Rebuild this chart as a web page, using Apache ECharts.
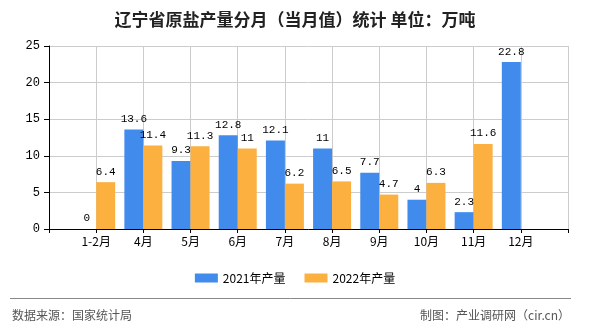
<!DOCTYPE html>
<html><head><meta charset="utf-8">
<script src="https://cdn.jsdelivr.net/npm/echarts@6/dist/echarts.min.js"></script>
<style>html,body{margin:0;padding:0;background:#fff}#c{width:590px;height:330px}</style>
</head><body><div id="c"></div>
<script>
const categories = ["1-2月","4月","5月","6月","7月","8月","9月","10月","11月","12月"];
const values2021 = [0, 13.6, 9.3, 12.8, 12.1, 11, 7.7, 4, 2.3, 22.8];
const values2022 = [6.4, 11.4, 11.3, 11, 6.2, 6.5, 4.7, 6.3, 11.6, null];
const yTicks = [0, 5, 10, 15, 20, 25];
const seriesNames = ["2021年产量", "2022年产量"];
const titleText = "辽宁省原盐产量分月（当月值）统计 单位：万吨";
const sourceText = "数据来源：国家统计局";
const creditText = "制图：产业调研网（cir.cn）";

const axisCats = [""].concat(categories, [""]);
const pad = arr => [null].concat(arr, [null]);
const mono = "'Liberation Mono','DejaVu Sans Mono',monospace";
const cjk = "'Noto Sans CJK SC','Noto Sans',sans-serif";

const chart = echarts.init(document.getElementById('c'), null, {renderer: 'canvas'});
const labelCfg = {show: true, position: 'top', distance: 5, color: '#000', fontSize: 11, fontFamily: mono};
chart.setOption({
  animation: false,
  backgroundColor: '#fff',
  title: {text: titleText, left: 'center', top: 6,
    textStyle: {fontSize: 17, fontWeight: 'bold', color: '#222', fontFamily: cjk}},
  grid: {left: 49, right: 22, top: 46, bottom: 101, containLabel: false},
  legend: {bottom: 41, left: 'center', itemWidth: 23, itemHeight: 9, itemGap: 19,
    icon: 'rect', textStyle: {fontSize: 12, color: '#000', fontFamily: cjk}, data: seriesNames},
  xAxis: {type: 'category', data: axisCats, boundaryGap: false,
    axisLine: {lineStyle: {color: '#000', width: 1}},
    axisTick: {show: true, length: 4, interval: 0, lineStyle: {color: '#000'}},
    axisLabel: {interval: 0, color: '#000', fontSize: 12, fontFamily: cjk, margin: 6},
    splitLine: {show: true, interval: 0, lineStyle: {color: '#ccc', width: 1}}},
  yAxis: {type: 'value', min: yTicks[0], max: yTicks[yTicks.length-1], interval: 5,
    axisLine: {show: true, lineStyle: {color: '#000'}},
    axisTick: {show: true, length: 5, lineStyle: {color: '#000'}},
    axisLabel: {color: '#000', fontSize: 12, fontFamily: mono, margin: 9},
    splitLine: {show: true, lineStyle: {color: '#ccc', width: 1}}},
  series: [
    {name: seriesNames[0], type: 'bar', data: pad(values2021), barWidth: 19, barGap: '0%',
     itemStyle: {color: '#418BED'}, label: labelCfg},
    {name: seriesNames[1], type: 'bar', data: pad(values2022), barWidth: 19, barGap: '0%',
     itemStyle: {color: '#FBB040'}, label: labelCfg}
  ],
  graphic: [
    {type: 'line', shape: {x1: 10, y1: 298.5, x2: 571, y2: 298.5}, style: {stroke: '#888', lineWidth: 1}},
    {type: 'text', left: 12, top: 309, style: {text: sourceText, fill: '#555', font: "12px " + cjk}},
    {type: 'text', right: 20, top: 309, style: {text: creditText, fill: '#555', font: "12px " + cjk}}
  ]
});
</script></body></html>
